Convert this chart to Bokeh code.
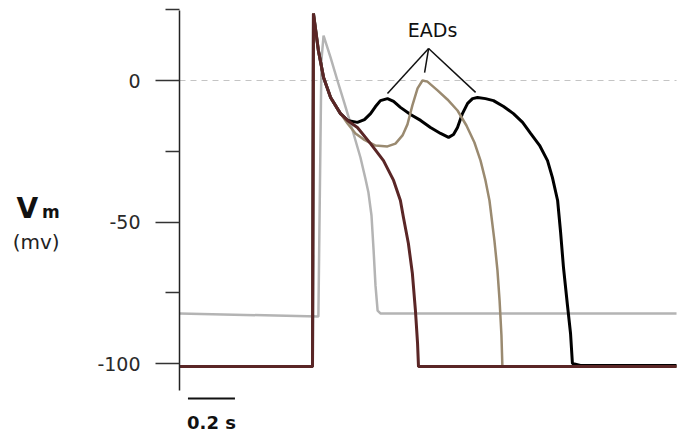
from bokeh.plotting import figure
from bokeh.models import Range1d, FixedTicker
from bokeh.core.properties import value
from bokeh.embed import file_html
from bokeh.resources import INLINE

# time in seconds, membrane potential in mV
gray_t = [0.0, 0.591, 0.604, 0.613, 0.643, 0.672, 0.702, 0.728, 0.749, 0.770, 0.791, 0.804,
          0.817, 0.826, 0.834, 0.843, 0.855, 2.115]
gray_v = [-82.3, -83.4, 7.1, 15.9, 8.1, 0.0, -8.1, -15.2, -21.2, -27.2, -34.6, -39.6,
          -47.7, -60.1, -72.4, -81.3, -82.3, -82.3]

brown_t = [0.0, 0.566, 0.570, 0.591, 0.613, 0.643, 0.685, 0.715, 0.757, 0.813, 0.868, 0.911,
           0.940, 0.953, 0.974, 0.991, 1.004, 1.013, 1.017, 2.115]
brown_v = [-101.1, -101.1, 23.7, 10.6, 1.1, -6.0, -11.7, -14.1, -16.6, -22.3, -28.3, -35.3,
           -42.4, -48.4, -57.6, -68.2, -81.3, -92.9, -101.1, -101.1]

tan_t = [0.0, 0.566, 0.570, 0.591, 0.613, 0.643, 0.685, 0.715, 0.749, 0.783, 0.834, 0.885,
         0.919, 0.949, 0.970, 0.991, 1.013, 1.034, 1.055, 1.098, 1.140, 1.183, 1.221, 1.255,
         1.281, 1.302, 1.319, 1.340, 1.353, 1.362, 1.370, 1.374, 2.115]
tan_v = [-101.1, -101.1, 23.7, 10.6, 1.1, -6.0, -11.7, -15.2, -18.7, -20.8, -23.0, -23.3,
         -22.3, -19.4, -15.5, -8.8, -2.8, 0.0, -0.4, -3.5, -6.7, -10.6, -15.9, -21.9,
         -28.3, -35.3, -42.4, -56.5, -67.1, -77.7, -90.1, -101.1, -101.1]

black_t = [0.0, 0.566, 0.570, 0.591, 0.613, 0.643, 0.685, 0.715, 0.757, 0.787, 0.813, 0.834,
           0.855, 0.885, 0.911, 0.940, 0.983, 1.026, 1.068, 1.111, 1.145, 1.166, 1.183, 1.204,
           1.226, 1.247, 1.268, 1.302, 1.336, 1.379, 1.421, 1.460, 1.494, 1.532, 1.566, 1.587,
           1.609, 1.621, 1.634, 1.651, 1.664, 1.672, 1.706, 2.115]
black_v = [-101.1, -101.1, 23.7, 10.6, 1.1, -6.0, -11.7, -14.1, -14.8, -13.8, -11.7, -9.2,
           -7.1, -6.4, -7.4, -9.5, -12.0, -14.1, -16.6, -18.7, -20.1, -19.1, -16.6, -11.7,
           -8.1, -6.4, -6.0, -6.4, -7.1, -9.2, -11.7, -14.8, -18.7, -22.9, -28.3, -34.3,
           -42.4, -53.0, -66.1, -79.5, -89.4, -100.0, -100.7, -100.7]

y_major = [0, -50, -100]
y_major_labels = {0: "0", -50: "-50", -100: "-100"}
y_minor = [25, -25, -75]

p = figure(width=680, height=435, output_backend="svg", toolbar_location=None,
           x_range=Range1d(-0.7617, 2.1319), y_range=Range1d(-125.44, 28.27),
           min_border_left=0, min_border_right=0, min_border_top=0, min_border_bottom=0)
p.outline_line_color = None
p.xgrid.visible = False
p.ygrid.visible = False
p.xaxis.visible = False
p.background_fill_color = "white"
p.border_fill_color = "white"

ax = p.yaxis[0]
ax.fixed_location = 0
ax.ticker = FixedTicker(ticks=y_major, minor_ticks=y_minor)
ax.major_label_overrides = y_major_labels
ax.bounds = (-109.5, 24.73)
ax.axis_line_color = "#222222"
ax.axis_line_width = 1.5
ax.major_tick_line_color = "#333333"
ax.major_tick_line_width = 1.5
ax.major_tick_out = 24
ax.major_tick_in = 0
ax.minor_tick_line_color = "#333333"
ax.minor_tick_line_width = 1.5
ax.minor_tick_out = 14
ax.minor_tick_in = 0
ax.major_label_text_font = "DejaVu Sans"
ax.major_label_text_font_size = "19px"
ax.major_label_text_color = "#2a2a2a"
ax.major_label_standoff = 15

# zero reference line
p.line([0, 2.115], [0, 0], line_color="#c4c4c4", line_width=1.2, line_dash="6 5")

p.line(gray_t, gray_v, line_color="#b4b4b4", line_width=2.5)
p.line(black_t, black_v, line_color="#000000", line_width=3)
p.line(tan_t, tan_v, line_color="#9a8a70", line_width=2.5)
p.line(brown_t, brown_v, line_color="#5a2626", line_width=3)

# EADs annotation
ead_apex = (1.060, 11.3)
ead_tips_t = [0.885, 1.043, 1.260]
ead_tips_v = [-4.6, 2.8, -4.2]
p.segment(x0=[ead_apex[0]] * 3, y0=[ead_apex[1]] * 3, x1=ead_tips_t, y1=ead_tips_v,
          line_color="#111111", line_width=1.5)
p.text(x=[1.077], y=[17.9], text=["EADs"], text_align="center", text_baseline="middle",
       text_font=value("DejaVu Sans"), text_font_size="19px", text_color="#111111")

# scale bar 0.2 s
p.line([0.036, 0.236], [-112.4, -112.4], line_color="#111111", line_width=2)
p.text(x=[0.136], y=[-121.0], text=["0.2 s"], text_align="center", text_baseline="middle",
       text_font=value("DejaVu Sans"), text_font_style="bold", text_font_size="18px",
       text_color="#111111")

# y label: V_m (mv)
p.text(x=[-0.694], y=[-45.2], text=["V"], text_align="left", text_baseline="middle",
       text_font=value("DejaVu Sans"), text_font_style="bold", text_font_size="28px",
       text_color="#111111")
p.text(x=[-0.585], y=[-46.5], text=["m"], text_align="left", text_baseline="middle",
       text_font=value("DejaVu Sans"), text_font_style="bold", text_font_size="17px",
       text_color="#111111")
p.text(x=[-0.710], y=[-56.9], text=["(mv)"], text_align="left", text_baseline="middle",
       text_font=value("DejaVu Sans"), text_font_size="20px", text_color="#222222")

open("out.html", "w").write(file_html(p, INLINE))
